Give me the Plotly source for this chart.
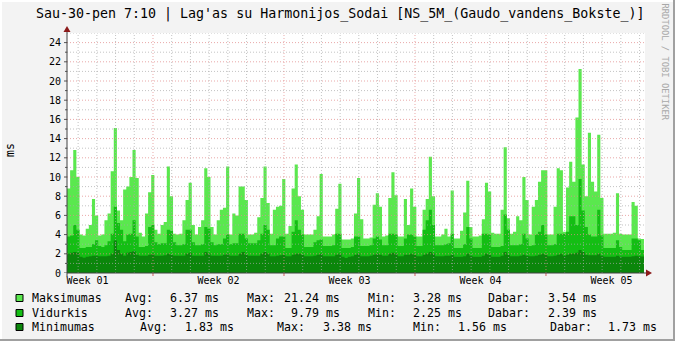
import plotly.graph_objects as go

# ---------------- data ----------------
TITLE = "Sau-30-pen 7:10 | Lag'as su Harmonijos_Sodai [NS_5M_(Gaudo_vandens_Bokste_)]"
Y_LABEL = "ms"
WATERMARK = "RRDTOOL / TOBI OETIKER"
WEEK_LABELS = ["Week 01", "Week 02", "Week 03", "Week 04", "Week 05"]
WEEK_LABEL_DAYS = [3.5, 10.5, 17.5, 24.5, 31.5]
WEEK_START_DAYS = [7, 14, 21, 28]

START_DAY = 2.405          # first sample (days since start of Week 01)
STEP_DAYS = 1 / 6          # 4-hour samples

maksimumas = [
    8.8, 10.7, 12.8, 10.0, 4.0, 3.9, 4.6, 5.0, 7.7, 6.0,
    3.9, 4.0, 5.5, 6.2, 10.6, 15.1, 6.5, 5.5, 8.7, 9.0,
    10.0, 12.8, 9.9, 4.2, 3.8, 6.2, 8.4, 10.2, 4.5, 4.1,
    5.0, 5.3, 11.1, 8.0, 4.1, 4.0, 4.1, 5.5, 7.6, 9.4,
    5.0, 4.0, 4.8, 5.5, 10.9, 10.0, 4.8, 4.0, 5.5, 6.6,
    6.8, 11.1, 4.0, 6.2, 6.0, 9.0, 9.0, 7.6, 4.0, 4.0,
    4.2, 5.8, 7.8, 11.1, 7.3, 4.1, 6.6, 6.9, 7.0, 9.8,
    4.1, 4.9, 8.8, 11.3, 8.0, 6.6, 4.0, 4.0, 4.0, 4.5,
    5.9, 10.3, 3.8, 3.8, 3.8, 4.0, 6.7, 9.3, 3.5, 3.5,
    3.5, 3.6, 6.2, 9.9, 5.6, 3.6, 3.6, 3.7, 7.1, 8.3,
    6.9, 3.8, 3.9, 7.8, 10.5, 8.1, 3.8, 3.8, 7.7, 5.0,
    8.8, 6.9, 3.8, 3.8, 6.6, 7.7, 12.1, 8.0, 3.8, 3.8,
    4.0, 4.6, 3.8, 8.6, 3.6, 3.6, 4.4, 6.3, 9.6, 4.8,
    3.8, 3.8, 3.9, 5.6, 9.4, 8.5, 4.2, 4.1, 4.1, 6.6,
    13.1, 5.7, 4.1, 4.3, 5.9, 5.5, 10.0, 7.6, 4.0, 6.9,
    7.6, 9.5, 10.7, 10.7, 4.0, 4.0, 6.9, 10.9, 10.7, 4.3,
    8.9, 11.6, 9.5, 16.2, 21.24, 11.3, 8.0, 14.6, 9.5, 8.5,
    14.4, 7.8, 4.1, 4.1, 4.1, 4.2, 8.3, 4.1, 4.0, 4.0,
    4.0, 7.4, 7.0, 3.6, 3.54,
]

vidurkis = [
    3.8, 3.9, 5.0, 4.5, 2.6, 2.6, 2.7, 2.7, 3.0, 3.4,
    2.8, 2.7, 2.9, 3.3, 4.1, 6.9, 5.2, 4.5, 3.3, 4.0,
    4.1, 5.5, 3.8, 2.7, 2.7, 2.8, 4.8, 5.0, 3.2, 3.0,
    3.1, 3.1, 4.5, 4.4, 3.2, 2.9, 2.9, 3.0, 4.5, 4.5,
    3.2, 2.9, 2.9, 3.0, 4.8, 4.6, 3.2, 2.9, 3.0, 3.0,
    3.6, 4.0, 3.0, 3.1, 3.1, 4.1, 4.1, 3.6, 3.1, 3.1,
    3.1, 3.4, 4.1, 5.0, 4.5, 2.9, 2.9, 3.6, 3.8, 3.8,
    2.6, 2.6, 4.3, 5.5, 4.5, 4.0, 2.7, 2.7, 2.7, 3.2,
    3.4, 3.5, 2.8, 2.8, 2.8, 2.9, 4.1, 4.1, 2.6, 2.6,
    2.6, 2.7, 3.8, 3.8, 2.8, 2.8, 2.8, 2.9, 3.6, 3.8,
    3.5, 2.9, 2.9, 4.1, 4.1, 4.0, 2.8, 2.8, 3.6, 4.0,
    4.0, 3.8, 2.8, 2.8, 4.5, 5.5, 6.6, 5.0, 2.9, 2.9,
    2.9, 3.0, 3.1, 4.1, 2.6, 2.6, 2.6, 3.0, 4.8, 3.6,
    2.6, 2.6, 2.6, 4.1, 4.1, 4.0, 2.7, 2.7, 2.7, 2.8,
    6.1, 4.5, 2.9, 2.9, 2.9, 3.0, 4.1, 3.6, 2.8, 2.9,
    4.0, 4.3, 5.0, 4.0, 2.9, 2.9, 3.0, 4.1, 4.1, 4.1,
    4.3, 5.9, 5.9, 5.0, 9.79, 6.5, 4.8, 4.0, 3.8, 3.8,
    6.6, 3.9, 2.6, 2.6, 2.6, 2.6, 3.4, 2.7, 2.4, 2.4,
    2.4, 3.6, 3.6, 3.4, 2.39,
]

minimumas = [
    2.0, 2.1, 2.2, 2.1, 1.7, 1.6, 1.7, 1.75, 1.8, 1.8,
    1.75, 1.75, 1.75, 1.8, 2.0, 3.38, 2.4, 2.0, 1.8, 2.1,
    2.2, 2.3, 1.9, 1.8, 1.8, 1.8, 1.9, 2.0, 1.8, 1.8,
    1.8, 1.85, 2.0, 1.9, 1.8, 1.8, 1.8, 1.8, 2.0, 2.1,
    1.8, 1.8, 1.8, 1.8, 2.2, 2.0, 1.8, 1.8, 1.8, 1.8,
    1.9, 2.0, 1.8, 1.8, 1.8, 2.0, 2.2, 1.9, 1.8, 1.8,
    1.8, 1.8, 2.0, 2.2, 2.0, 1.75, 1.75, 1.8, 1.85, 1.9,
    1.75, 1.75, 1.9, 2.0, 2.0, 1.9, 1.75, 1.75, 1.75, 1.8,
    1.9, 2.0, 1.75, 1.75, 1.75, 1.75, 1.9, 2.0, 1.7, 1.56,
    1.7, 1.75, 1.9, 2.0, 1.75, 1.75, 1.75, 1.8, 1.9, 2.0,
    1.9, 1.8, 1.8, 2.0, 2.1, 2.0, 1.75, 1.75, 1.9, 1.9,
    2.0, 1.9, 1.75, 1.75, 1.9, 2.0, 2.2, 2.0, 1.75, 1.75,
    1.75, 1.8, 1.8, 1.9, 1.7, 1.7, 1.7, 1.75, 2.0, 1.8,
    1.7, 1.7, 1.7, 1.8, 2.0, 1.9, 1.7, 1.7, 1.7, 1.8,
    2.2, 1.9, 1.75, 1.75, 1.75, 1.8, 1.9, 1.8, 1.75, 1.75,
    1.8, 1.9, 2.0, 1.9, 1.75, 1.75, 1.8, 1.9, 2.0, 1.8,
    1.9, 2.0, 2.0, 2.1, 2.4, 2.2, 1.9, 1.85, 1.85, 1.85,
    2.0, 1.8, 1.7, 1.7, 1.7, 1.7, 1.8, 1.7, 1.7, 1.7,
    1.7, 1.75, 1.8, 1.75, 1.73,
]

SERIES_NAMES = ["Maksimumas", "Vidurkis", "Minimumas"]
STAT_AVG = [6.37, 3.27, 1.83]
STAT_MAX = [21.24, 9.79, 3.38]
STAT_MIN = [3.28, 2.25, 1.56]
STAT_NOW = [3.54, 2.39, 1.73]

# ---------------- styles ----------------
COLORS = ["#5ae84e", "#14be14", "#0b860b"]
BG = "#f3f3f3"
MONO = "DejaVu Sans Mono"
W, H = 675, 341
L, R, T, B = 67, 645, 33, 273   # plot area in pixels
DAY_PX = 18.714
X_RANGE = [START_DAY, START_DAY + (R - L) / DAY_PX]
Y_RANGE = [0, 25]


def px(xp):
    return (xp - L) / (R - L)


def py(yp):
    return (B - yp) / (B - T)


fig = go.Figure()
n = len(maksimumas)
xs = [START_DAY + STEP_DAYS * i for i in range(n)]
xs_ext = xs + [START_DAY + STEP_DAYS * n]
for name, vals, col in zip(SERIES_NAMES, [maksimumas, vidurkis, minimumas], COLORS):
    fig.add_trace(go.Scatter(
        x=xs_ext, y=list(vals) + [vals[-1]], mode="lines", name=name,
        line=dict(width=0, shape="hv", color=col),
        fill="tozeroy", fillcolor=col, hoverinfo="skip", showlegend=False,
    ))

shapes = []
# horizontal grid (on top of areas)
for v in range(1, 26):
    major = v % 2 == 0
    shapes.append(dict(type="line", xref="paper", yref="y", x0=0, x1=1, y0=v, y1=v,
                       layer="above",
                       line=dict(color="rgba(225,140,140,0.75)" if major else "rgba(170,170,170,0.7)",
                                 width=1, dash="1px,2px")))
# vertical grid
for d in range(3, 34):
    major = d in WEEK_START_DAYS
    shapes.append(dict(type="line", xref="x", yref="paper", x0=d, x1=d, y0=0, y1=1,
                       layer="above",
                       line=dict(color="rgba(225,140,140,0.75)" if major else "rgba(170,170,170,0.7)",
                                 width=1, dash="1px,2px")))
    if major:
        shapes.append(dict(type="line", xref="x", yref="paper", x0=d, x1=d,
                           y0=py(B), y1=py(B + 3), layer="above",
                           line=dict(color="#d06060", width=1)))
# y-axis minor/major ticks
for v in range(0, 25):
    shapes.append(dict(type="line", xref="paper", yref="y", x0=px(L - (3 if v % 2 == 0 else 2)), x1=px(L),
                       y0=v, y1=v, layer="above", line=dict(color="#555555", width=1)))
# axes lines
shapes.append(dict(type="line", xref="paper", yref="paper", x0=px(L), x1=px(650), y0=0, y1=0,
                   layer="above", line=dict(color="#404040", width=1)))
shapes.append(dict(type="line", xref="paper", yref="paper", x0=0, x1=0, y0=py(B + 3), y1=py(29),
                   layer="above", line=dict(color="#404040", width=1)))
# arrows
ARROW = "#8b1a1a"
shapes.append(dict(type="path", xref="paper", yref="paper", layer="above",
                   path=f"M {px(L - 3.5)} {py(32)} L {px(L + 3.5)} {py(32)} L {px(L)} {py(26)} Z",
                   fillcolor=ARROW, line=dict(width=0)))
shapes.append(dict(type="path", xref="paper", yref="paper", layer="above",
                   path=f"M {px(646)} {py(B - 3.5)} L {px(646)} {py(B + 3.5)} L {px(652)} {py(B)} Z",
                   fillcolor=ARROW, line=dict(width=0)))
# outer shade border
shapes.append(dict(type="rect", xref="paper", yref="paper", x0=px(673), x1=px(675), y0=py(341), y1=py(0),
                   fillcolor="#a0a0a0", line=dict(width=0), layer="above"))
shapes.append(dict(type="rect", xref="paper", yref="paper", x0=px(0), x1=px(675), y0=py(341), y1=py(339),
                   fillcolor="#a0a0a0", line=dict(width=0), layer="above"))
shapes.append(dict(type="rect", xref="paper", yref="paper", x0=px(0), x1=px(673), y0=py(2), y1=py(0),
                   fillcolor="#ffffff", line=dict(width=0), layer="above"))
shapes.append(dict(type="rect", xref="paper", yref="paper", x0=px(0), x1=px(2), y0=py(339), y1=py(0),
                   fillcolor="#ffffff", line=dict(width=0), layer="above"))

annotations = []
annotations.append(dict(text=TITLE, xref="paper", yref="paper", x=px(340), y=py(14),
                        xanchor="center", yanchor="middle", showarrow=False,
                        font=dict(family=MONO, size=13.3, color="#000000")))
annotations.append(dict(text=Y_LABEL, xref="paper", yref="paper", x=px(10), y=py(150),
                        xanchor="center", yanchor="middle", showarrow=False, textangle=-90,
                        font=dict(family=MONO, size=11.5, color="#000000")))
annotations.append(dict(text=WATERMARK, xref="paper", yref="paper", x=px(665), y=py(1),
                        xanchor="center", yanchor="top", showarrow=False, textangle=90,
                        font=dict(family=MONO, size=8.8, color="#a8a8a8")))

# legend
LEG_Y = [298, 313, 327]
CW = 6.95
LAYOUTS = [
    dict(avg=123, v1=172, mx=245, v2=286, mn=366, v3=415, db=486, v4=550),
    dict(avg=123, v1=172, mx=245, v2=286, mn=366, v3=415, db=486, v4=550),
    dict(avg=138, v1=187, mx=275, v2=325, mn=411, v3=460, db=548, v4=610),
]
LEG_FONT = dict(family=MONO, size=11.6, color="#000000")
for i, name in enumerate(SERIES_NAMES):
    yc = LEG_Y[i]
    lay = LAYOUTS[i]
    shapes.append(dict(type="rect", xref="paper", yref="paper", x0=px(16), x1=px(23),
                       y0=py(yc + 3.5), y1=py(yc - 3.5), fillcolor=COLORS[i],
                       line=dict(color="#000000", width=1), layer="above"))

    def left(txt, x):
        annotations.append(dict(text=txt, xref="paper", yref="paper", x=px(x), y=py(yc),
                                xanchor="left", yanchor="middle", showarrow=False, font=LEG_FONT))

    def right(txt, xend):
        annotations.append(dict(text=txt, xref="paper", yref="paper", x=px(xend), y=py(yc),
                                xanchor="right", yanchor="middle", showarrow=False, font=LEG_FONT))

    left(name, 30)
    left("Avg:", lay["avg"])
    right(f"{STAT_AVG[i]:.2f} ms", lay["v1"] + 7 * CW)
    left("Max:", lay["mx"])
    right(f"{STAT_MAX[i]:.2f} ms", lay["v2"] + 8 * CW if i != 2 else lay["v2"] + 7 * CW)
    left("Min:", lay["mn"])
    right(f"{STAT_MIN[i]:.2f} ms", lay["v3"] + 7 * CW)
    left("Dabar:", lay["db"])
    right(f"{STAT_NOW[i]:.2f} ms", lay["v4"] + 7 * CW)

fig.update_layout(
    width=W, height=H,
    margin=dict(l=L, r=W - R, t=T, b=H - B, pad=0),
    paper_bgcolor=BG, plot_bgcolor="#ffffff",
    showlegend=False,
    xaxis=dict(range=X_RANGE, tickmode="array", tickvals=WEEK_LABEL_DAYS, ticktext=WEEK_LABELS,
               ticks="", showgrid=False, zeroline=False, showline=False, fixedrange=True,
               tickfont=dict(family=MONO, size=10, color="#000000")),
    yaxis=dict(range=Y_RANGE, tick0=0, dtick=2, ticks="", showgrid=False, zeroline=False,
               showline=False, fixedrange=True, ticklabelstandoff=5,
               tickfont=dict(family=MONO, size=10, color="#000000")),
    shapes=shapes, annotations=annotations,
)

fig.write_html("out.html", config={"displayModeBar": False})
